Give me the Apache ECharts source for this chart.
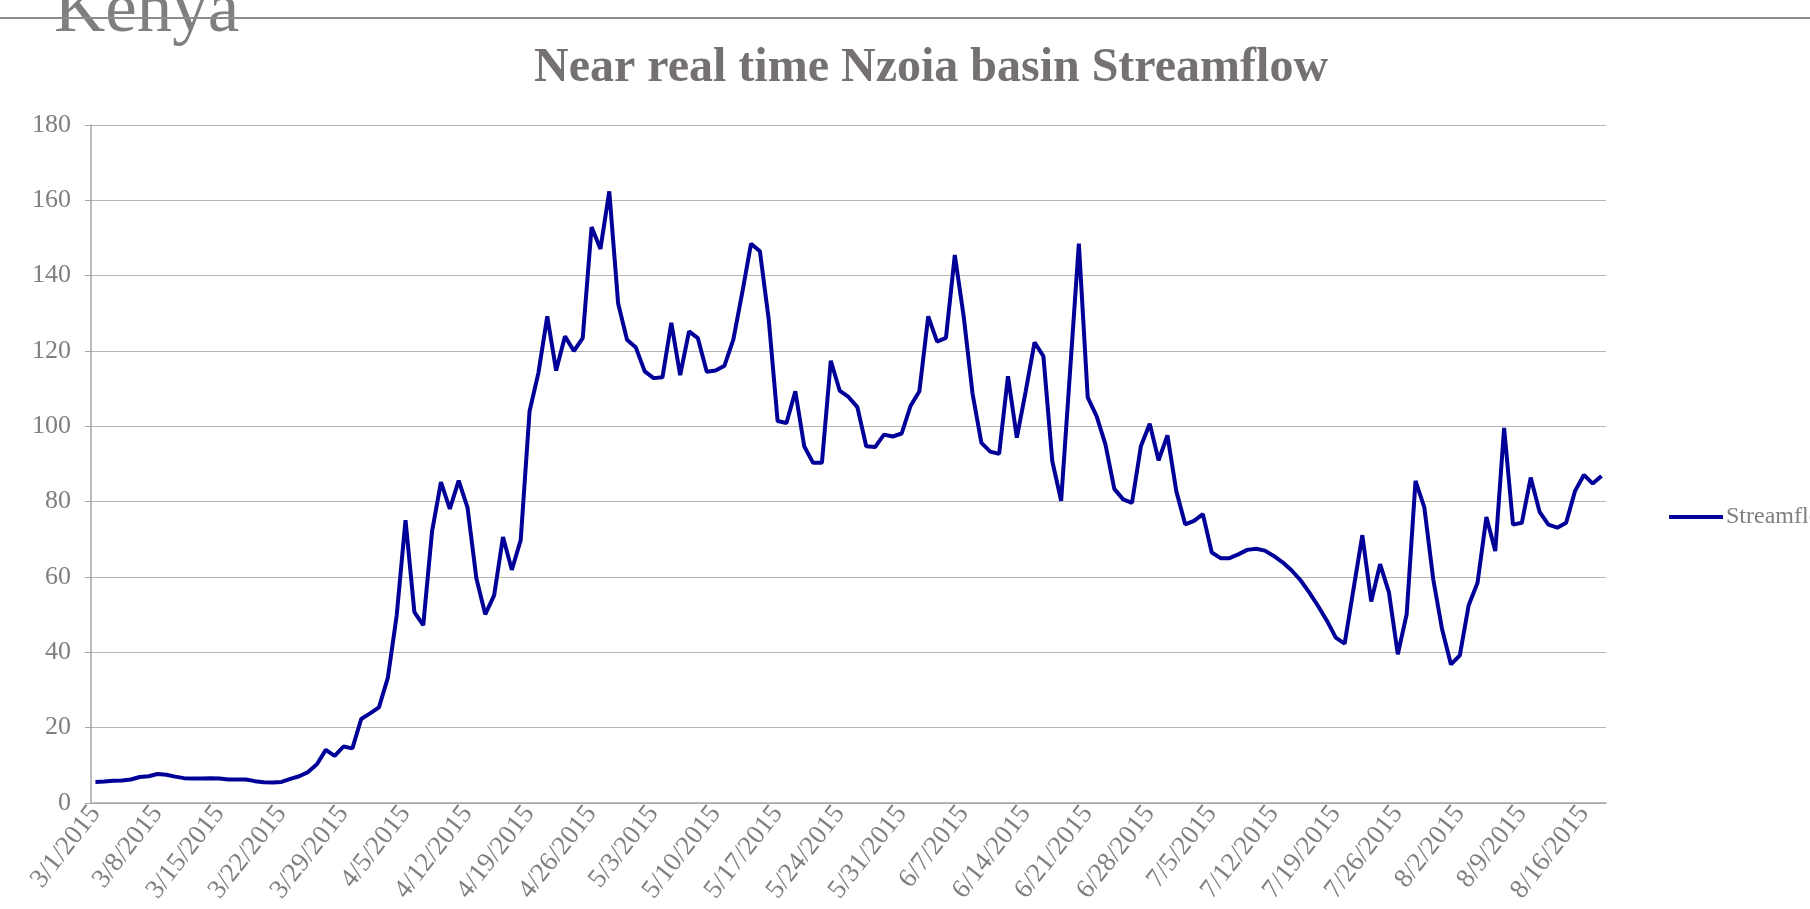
<!DOCTYPE html>
<html>
<head>
<meta charset="utf-8">
<title>Near real time Nzoia basin Streamflow</title>
<script src="https://cdn.jsdelivr.net/npm/echarts@6/dist/echarts.min.js"></script>
<style>
  html, body { margin: 0; padding: 0; background: #fff; }
  #main { width: 1810px; height: 909px; }
</style>
</head>
<body>
<div id="main"></div>
<script>
// daily streamflow, one array per month (2015)
var march = [5.6, 5.7, 5.9, 6.0, 6.25, 6.9, 7.1, 7.7, 7.5, 7.0, 6.6, 6.5, 6.5, 6.6, 6.5, 6.25, 6.25, 6.25, 5.8, 5.5, 5.45, 5.6, 6.4, 7.1, 8.2, 10.3, 14.1, 12.5, 15.0, 14.5, 22.3];
var april = [23.8, 25.4, 33.2, 49.7, 75.1, 50.7, 47.2, 72.2, 85.2, 78.1, 85.6, 78.4, 59.6, 50.1, 55.1, 70.6, 61.9, 69.8, 104.0, 114.2, 129.2, 114.8, 123.9, 120.0, 123.4, 152.9, 147.1, 162.4, 132.6, 123.0];
var may = [120.9, 114.6, 112.8, 113.0, 127.5, 113.6, 125.2, 123.4, 114.5, 114.8, 116.1, 123.0, 135.4, 148.5, 146.5, 128.3, 101.4, 100.9, 109.3, 94.7, 90.3, 90.3, 117.4, 109.5, 107.8, 105.1, 94.7, 94.5, 97.8, 97.3, 98.1];
var june = [105.4, 109.3, 129.2, 122.5, 123.5, 145.5, 129.2, 108.7, 95.6, 93.3, 92.7, 113.3, 97.0, 109.3, 122.3, 118.6, 90.8, 80.2, 114.3, 148.5, 107.7, 102.7, 95.2, 83.4, 80.6, 79.7, 94.7, 100.7, 91.0, 97.6];
var july = [82.8, 74.0, 74.9, 76.7, 66.5, 65.0, 65.0, 66.0, 67.2, 67.5, 67.0, 65.6, 63.9, 61.8, 59.2, 55.9, 52.3, 48.4, 43.9, 42.3, 56.8, 71.1, 53.5, 63.4, 55.9, 39.5, 50.1, 85.5, 78.4, 59.4, 46.1];
var august = [36.8, 39.2, 52.5, 58.5, 75.9, 66.9, 99.6, 73.9, 74.4, 86.4, 77.3, 73.9, 73.1, 74.4, 82.8, 87.1, 84.8, 86.8];

var months = [3, 4, 5, 6, 7, 8];
var monthData = [march, april, may, june, july, august];
var yTicks = [0, 180, 20]; // min, max, step

var dates = [];
var flow = [];
monthData.forEach(function (arr, k) {
  arr.forEach(function (v, i) {
    dates.push(months[k] + '/' + (i + 1) + '/2015');
    flow.push(v);
  });
});

var serif = '"Liberation Serif", "DejaVu Serif", serif';
var grey = '#7f7f7f';
var blue = '#000099';

var chart = echarts.init(document.getElementById('main'));
chart.setOption({
  backgroundColor: '#fff',
  animation: false,
  title: {
    text: 'Near real time Nzoia basin Streamflow',
    left: 534,
    top: 45,
    padding: 0,
    textStyle: { fontFamily: serif, fontSize: 48, fontWeight: 'bold', color: '#767171' }
  },
  graphic: [
    {
      type: 'text',
      left: 54,
      top: -23,
      style: { text: 'Kenya', fontFamily: serif, fontSize: 71, fill: grey }
    },
    {
      type: 'line',
      shape: { x1: 0, y1: 18, x2: 1810, y2: 18 },
      style: { stroke: '#8c8c8c', lineWidth: 2 }
    }
  ],
  legend: {
    left: 1664,
    top: 500,
    itemWidth: 54,
    itemHeight: 4,
    itemGap: 4,
    textStyle: { fontFamily: serif, fontSize: 24, color: grey, padding: [0, 0, 0, -2] },
    data: [{ name: 'Streamflow', icon: 'rect', itemStyle: { color: blue } }]
  },
  grid: { left: 91, right: 204, top: 125, bottom: 106 },
  xAxis: {
    type: 'category',
    data: dates,
    boundaryGap: true,
    axisLine: { lineStyle: { color: '#a6a6a6', width: 1.5 } },
    axisTick: { interval: 6, length: 6, lineStyle: { color: '#a6a6a6' } },
    axisLabel: { interval: 6, rotate: 52, margin: 6, fontFamily: serif, fontSize: 27, color: grey }
  },
  yAxis: {
    type: 'value',
    min: yTicks[0],
    max: yTicks[1],
    interval: yTicks[2],
    axisLine: { show: true, lineStyle: { color: '#a6a6a6', width: 1.5 } },
    axisTick: { show: true, length: 6, lineStyle: { color: '#a6a6a6' } },
    axisLabel: { margin: 20, fontFamily: serif, fontSize: 26, color: grey },
    splitLine: { lineStyle: { color: '#b5b5b5', width: 1.2 } }
  },
  series: [{
    name: 'Streamflow',
    type: 'line',
    data: flow,
    symbol: 'none',
    lineStyle: { color: blue, width: 4 },
    itemStyle: { color: blue }
  }]
});
</script>
</body>
</html>
